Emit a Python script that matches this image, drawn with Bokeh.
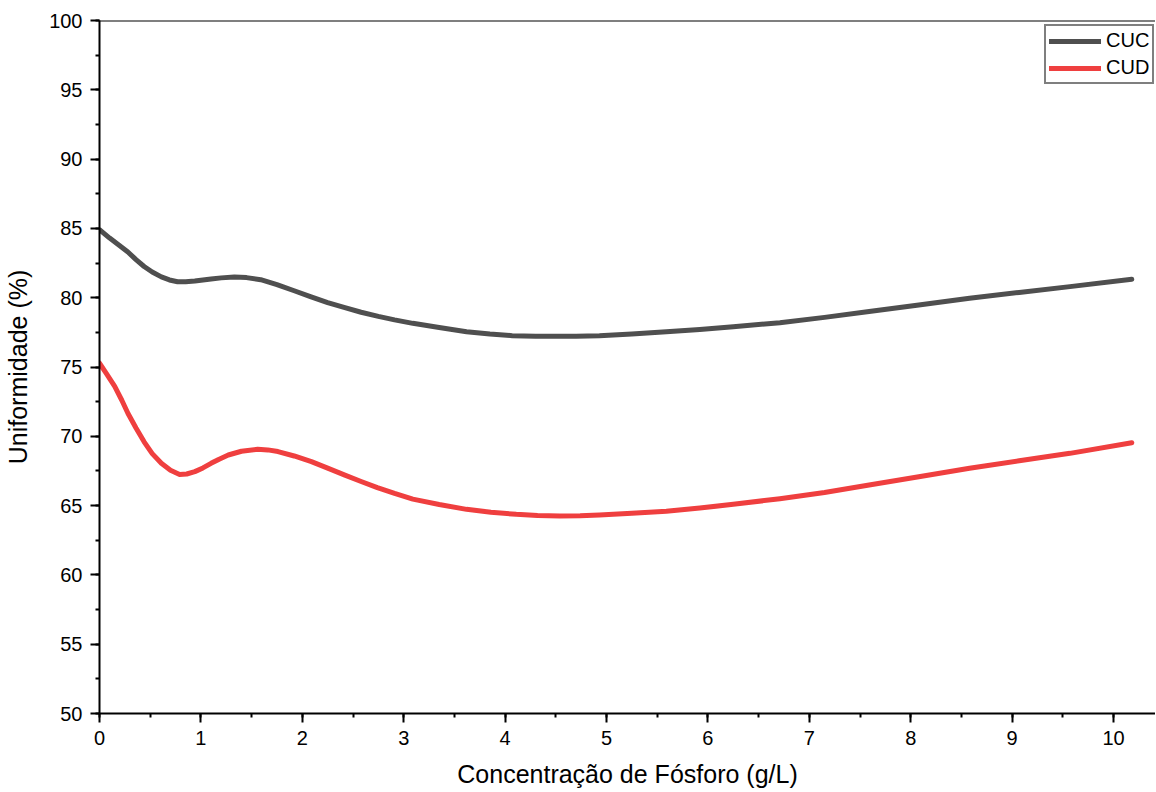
from bokeh.plotting import figure
from bokeh.models import Range1d, Span, Legend, LegendItem, SingleIntervalTicker
from bokeh.embed import file_html
from bokeh.resources import INLINE

# Data
cuc_x = [0.0, 0.1, 0.2, 0.28, 0.36, 0.44, 0.52, 0.61, 0.69, 0.77, 0.85, 0.94, 1.02, 1.10, 1.2,
         1.33, 1.45, 1.59, 1.75, 1.92, 2.08, 2.25, 2.42, 2.58, 2.75, 2.91, 3.09, 3.35, 3.62,
         3.85, 4.07, 4.3, 4.5, 4.7, 4.93, 5.25, 5.59, 5.92, 6.25, 6.71, 7.15, 7.59, 8.08, 8.58,
         9.07, 9.57, 10.18]
cuc_y = [84.9, 84.3, 83.75, 83.3, 82.75, 82.25, 81.85, 81.5, 81.28, 81.15, 81.15, 81.2, 81.28,
         81.35, 81.43, 81.5, 81.45, 81.3, 80.95, 80.5, 80.08, 79.65, 79.28, 78.95, 78.65, 78.4,
         78.15, 77.85, 77.55, 77.38, 77.26, 77.22, 77.22, 77.22, 77.26, 77.38, 77.55, 77.7, 77.9,
         78.2, 78.58, 79.0, 79.48, 79.96, 80.38, 80.8, 81.33]

cud_x = [0.0, 0.07, 0.15, 0.22, 0.28, 0.36, 0.44, 0.52, 0.61, 0.70, 0.79, 0.86, 0.94, 1.02, 1.10,
         1.18, 1.27, 1.40, 1.56, 1.66, 1.76, 1.92, 2.09, 2.25, 2.42, 2.58, 2.74, 2.91, 3.09, 3.35,
         3.62, 3.86, 4.11, 4.32, 4.54, 4.74, 4.93, 5.25, 5.59, 5.92, 6.25, 6.71, 7.15, 7.59, 8.08,
         8.58, 9.07, 9.57, 10.18]
cud_y = [75.27, 74.5, 73.6, 72.6, 71.66, 70.6, 69.6, 68.75, 68.05, 67.55, 67.25, 67.28, 67.45,
         67.72, 68.05, 68.35, 68.65, 68.92, 69.06, 69.02, 68.9, 68.58, 68.17, 67.7, 67.2, 66.74,
         66.3, 65.88, 65.47, 65.08, 64.73, 64.52, 64.37, 64.29, 64.25, 64.27, 64.32, 64.44, 64.6,
         64.82, 65.09, 65.5, 65.95, 66.48, 67.08, 67.69, 68.23, 68.77, 69.54]

x_label = "Concentração de Fósforo (g/L)"
y_label = "Uniformidade (%)"
series_names = ["CUC", "CUD"]
colors = ["#4f4f4f", "#ef3f3f"]

FONT = "Liberation Sans"

p = figure(width=1155, height=791, output_backend="svg", toolbar_location=None,
           x_range=Range1d(0, 10.414), y_range=Range1d(50, 100),
           min_border_left=99, min_border_right=0, min_border_top=20, min_border_bottom=78)
p.outline_line_color = None
p.xgrid.visible = False
p.ygrid.visible = False
p.background_fill_color = "white"

r1 = p.line(cuc_x, cuc_y, line_color=colors[0], line_width=5, line_join="round", line_cap="round")
r2 = p.line(cud_x, cud_y, line_color=colors[1], line_width=5, line_join="round", line_cap="round")

top = Span(location=100, dimension="width", line_color="black", line_width=2)
p.add_layout(top)

p.xaxis.ticker = SingleIntervalTicker(interval=1, num_minor_ticks=2)
p.yaxis.ticker = SingleIntervalTicker(interval=5, num_minor_ticks=2)

for ax in (p.xaxis, p.yaxis):
    ax.axis_line_color = "black"
    ax.axis_line_width = 2
    ax.major_tick_line_color = "black"
    ax.major_tick_line_width = 2
    ax.minor_tick_line_color = "black"
    ax.minor_tick_line_width = 2
    ax.major_tick_in = 0
    ax.major_tick_out = 9
    ax.minor_tick_in = 0
    ax.minor_tick_out = 4
    ax.major_label_text_font = FONT
    ax.major_label_text_font_size = "20px"
    ax.major_label_text_color = "black"
    ax.axis_label_text_font = FONT
    ax.axis_label_text_font_size = "25px"
    ax.axis_label_text_font_style = "normal"
    ax.axis_label_text_color = "black"
    ax.major_label_standoff = 8

p.xaxis.axis_label = x_label
p.yaxis.axis_label = y_label
p.xaxis.axis_label_standoff = 12
p.yaxis.axis_label_standoff = 14

legend = Legend(items=[LegendItem(label=series_names[0], renderers=[r1]),
                       LegendItem(label=series_names[1], renderers=[r2])],
                location=(945, 629))
legend.border_line_color = "black"
legend.border_line_width = 2
legend.background_fill_alpha = 1
legend.label_text_font = FONT
legend.label_text_font_size = "20px"
legend.label_text_color = "black"
legend.glyph_width = 52
legend.glyph_height = 20
legend.label_height = 20
legend.label_standoff = 5
legend.spacing = 4
legend.padding = 3
legend.margin = 0
p.add_layout(legend)

open("out.html", "w").write(file_html(p, INLINE))
